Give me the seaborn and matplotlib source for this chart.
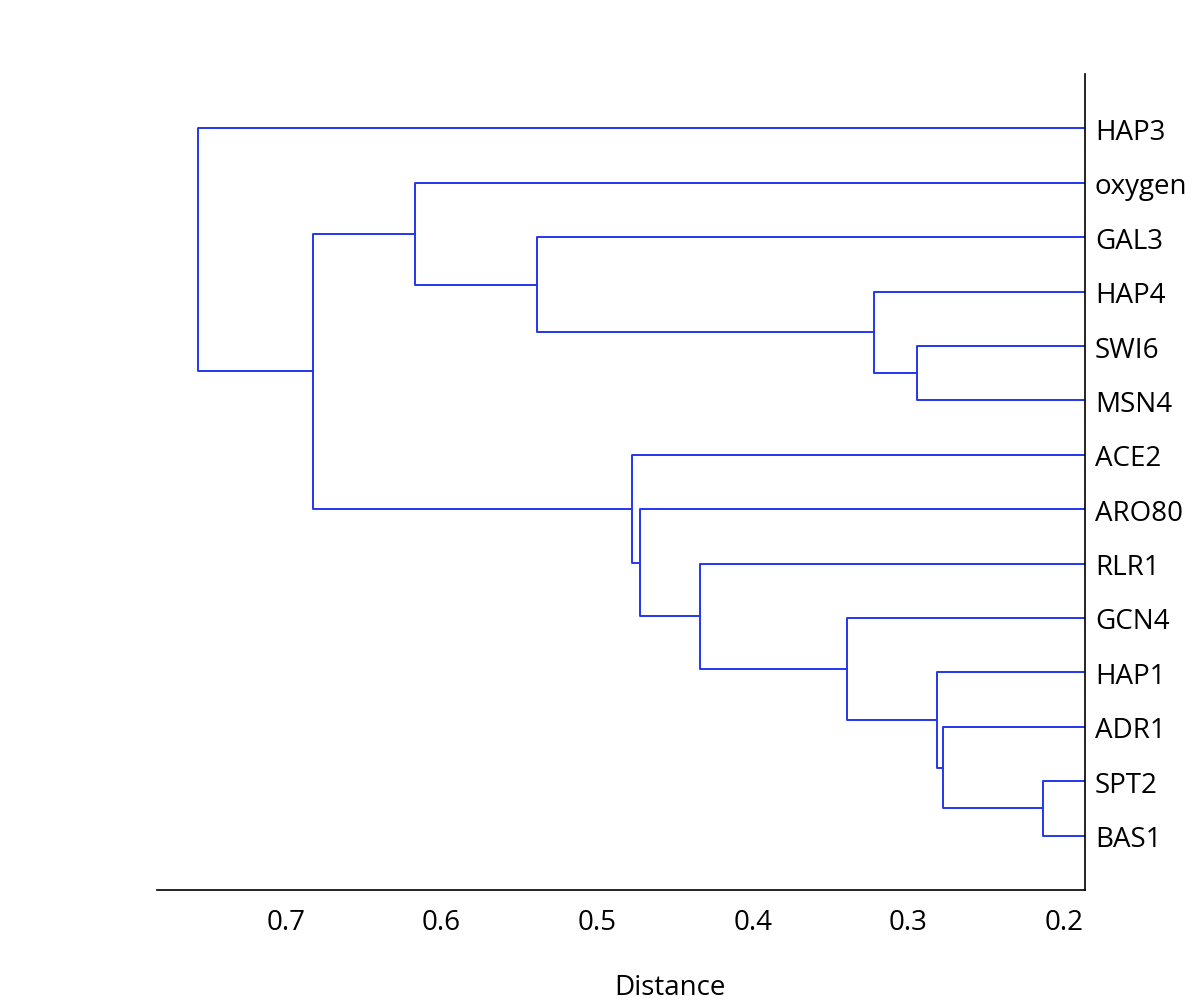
import numpy as np
import pandas as pd
import matplotlib
matplotlib.use("Agg")
import matplotlib.pyplot as plt
import seaborn as sns

# leaf order, top to bottom
leaves = ['HAP3', 'oxygen', 'GAL3', 'HAP4', 'SWI6', 'MSN4', 'ACE2',
          'ARO80', 'RLR1', 'GCN4', 'HAP1', 'ADR1', 'SPT2', 'BAS1']

# linkage: indices < 14 are leaves, >= 14 are earlier merges
merge_left = [12, 11, 10, 4, 3, 9, 8, 7, 6, 2, 1, 24, 0]
merge_right = [13, 14, 15, 5, 17, 16, 19, 20, 21, 18, 23, 22, 25]
merge_height = [0.2131, 0.2774, 0.2817, 0.2941, 0.3220, 0.3392, 0.4337,
                0.4725, 0.4778, 0.5389, 0.6169, 0.6828, 0.7568]

x_ticks = [0.7, 0.6, 0.5, 0.4, 0.3, 0.2]

n = len(leaves)
pos = {i: float(i + 1) for i in range(n)}
hgt = {i: 0.0 for i in range(n)}

rows = []
for k, (a, b, h) in enumerate(zip(merge_left, merge_right, merge_height)):
    ya, yb = pos[a], pos[b]
    pts = [(hgt[a], ya), (h, ya), (h, yb), (hgt[b], yb)]
    for j, (xx, yy) in enumerate(pts):
        rows.append({'seg': k, 'order': j, 'dist': xx, 'y': yy})
    pos[n + k] = (ya + yb) / 2
    hgt[n + k] = h

segs = pd.DataFrame(rows)

sns.set_style('white')
plt.rcParams['font.family'] = ['Open Sans', 'DejaVu Sans']

fig = plt.figure(figsize=(12, 10.03), dpi=100)
ax = fig.add_axes([0.1308, 0.1117, 0.9042 - 0.1308, 0.9252 - 0.1117])

sns.lineplot(data=segs, x='dist', y='y', units='seg', estimator=None,
             sort=False, color='#2236ee', linewidth=1.4, ax=ax, legend=False)

ax.set_xlim(0.783, 0.1863)
ax.set_ylim(n + 1, 0)
ax.set_xticks(x_ticks)
ax.set_xticklabels([f'{t:.1f}' for t in x_ticks])
ax.yaxis.tick_right()
ax.set_yticks(range(1, n + 1))
ax.set_yticklabels(leaves)
ax.set_ylabel('')
ax.set_xlabel('Distance', fontsize=20, labelpad=0, color='black')
ax.xaxis.set_label_coords(0.553, -0.102)

ax.tick_params(axis='x', direction='in', length=7, width=1, labelsize=20,
               pad=13, colors='black')
ax.tick_params(axis='y', direction='in', length=0, labelsize=20, pad=7,
               colors='black')
sns.despine(ax=ax, left=True, top=True, right=False, bottom=False)
for s in ['right', 'bottom']:
    ax.spines[s].set_color('black')
    ax.spines[s].set_linewidth(1.2)

fig.savefig('out.png', dpi=100, facecolor='white')
